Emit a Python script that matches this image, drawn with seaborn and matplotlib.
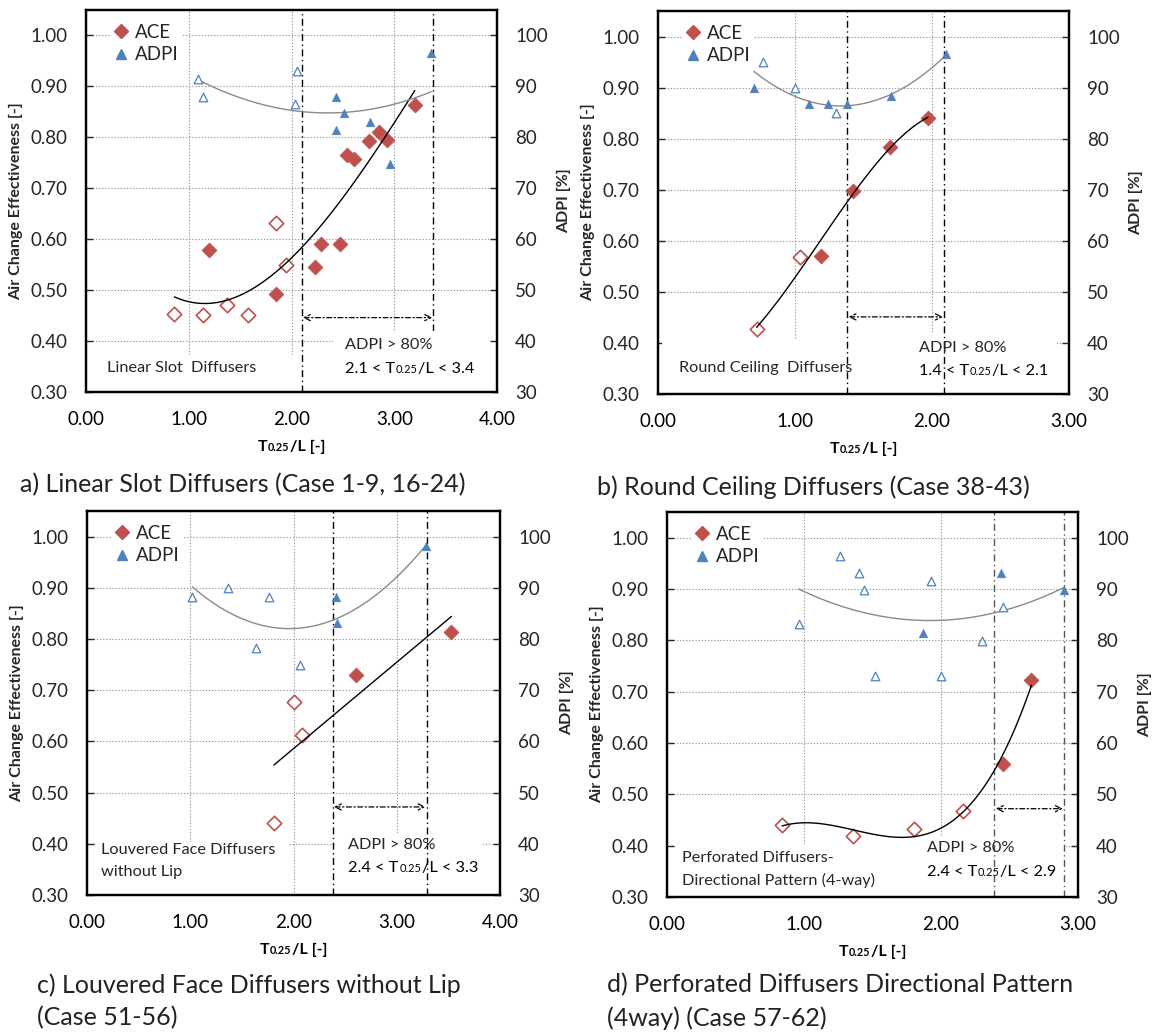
import numpy as np
import pandas as pd
import matplotlib
matplotlib.use("Agg")
import matplotlib.pyplot as plt
import seaborn as sns
from matplotlib.transforms import IdentityTransform
from matplotlib.lines import Line2D
from matplotlib.patches import Rectangle

sns.set_theme(style="white")
plt.rcParams["font.family"] = ["Lato", "DejaVu Sans"]

# ---------------- data ----------------
# Panel a: Linear slot diffusers
a_ace_fill_x = [1.20, 1.85, 2.23, 2.29, 2.47, 2.54, 2.61, 2.75, 2.85, 2.93, 3.20]
a_ace_fill_y = [0.578, 0.492, 0.546, 0.591, 0.591, 0.765, 0.758, 0.792, 0.810, 0.794, 0.863]
a_ace_open_x = [0.86, 1.14, 1.37, 1.58, 1.85, 1.95]
a_ace_open_y = [0.454, 0.452, 0.471, 0.451, 0.632, 0.550]
a_adpi_fill_x = [2.43, 2.51, 2.43, 2.76, 2.96, 3.36]
a_adpi_fill_y = [88.0, 84.8, 81.5, 83.1, 74.8, 96.5]
a_adpi_open_x = [1.09, 1.14, 2.05, 2.03]
a_adpi_open_y = [91.5, 88.0, 93.1, 86.5]

# Panel b: Round ceiling diffusers
b_ace_fill_x = [1.19, 1.42, 1.69, 1.97]
b_ace_fill_y = [0.571, 0.698, 0.784, 0.840]
b_ace_open_x = [0.72, 1.04]
b_ace_open_y = [0.427, 0.569]
b_adpi_fill_x = [0.70, 1.10, 1.24, 1.38, 1.70, 2.10]
b_adpi_fill_y = [89.9, 86.7, 86.7, 86.7, 88.4, 96.6]
b_adpi_open_x = [0.77, 1.00, 1.30]
b_adpi_open_y = [95.0, 90.0, 85.0]

# Panel c: Louvered face diffusers without lip
c_ace_fill_x = [2.61, 3.53]
c_ace_fill_y = [0.730, 0.813]
c_ace_open_x = [1.81, 2.00, 2.08]
c_ace_open_y = [0.441, 0.676, 0.612]
c_adpi_fill_x = [2.41, 2.42, 3.28]
c_adpi_fill_y = [88.2, 83.1, 98.1]
c_adpi_open_x = [1.02, 1.37, 1.76, 1.64, 2.06]
c_adpi_open_y = [88.2, 90.0, 88.2, 78.3, 75.0]

# Panel d: Perforated diffusers, directional pattern (4-way)
d_ace_fill_x = [2.45, 2.66]
d_ace_fill_y = [0.559, 0.722]
d_ace_open_x = [0.84, 1.36, 1.80, 2.16]
d_ace_open_y = [0.441, 0.419, 0.433, 0.467]
d_adpi_fill_x = [1.87, 2.44, 2.90]
d_adpi_fill_y = [81.5, 93.2, 89.8]
d_adpi_open_x = [1.26, 1.40, 1.44, 1.93, 0.96, 1.52, 2.00, 2.30, 2.45]
d_adpi_open_y = [96.5, 93.1, 89.8, 91.5, 83.2, 73.1, 73.1, 79.8, 86.4]

# ADPI > 80 % ranges of T0.25/L
ranges = {"a": [2.1, 3.38], "b": [1.38, 2.09], "c": [2.38, 3.29], "d": [2.39, 2.90]}
range_labels = {"a": ["2.1", "3.4"], "b": ["1.4", "2.1"], "c": ["2.4", "3.3"], "d": ["2.4", "2.9"]}
xmax = {"a": 4.0, "b": 3.0, "c": 4.0, "d": 3.0}
ace_order = {"a": 3, "b": 3, "c": 1, "d": 3}
adpi_order = {"a": 2, "b": 2, "c": 2, "d": 2}
type_labels = {"a": ["Linear Slot  Diffusers"],
               "b": ["Round Ceiling  Diffusers"],
               "c": ["Louvered Face Diffusers", "without Lip"],
               "d": ["Perforated Diffusers-", "Directional Pattern (4-way)"]}
captions = {"a": ["a) Linear Slot Diffusers (Case 1-9, 16-24)"],
            "b": ["b) Round Ceiling Diffusers (Case 38-43)"],
            "c": ["c) Louvered Face Diffusers without Lip", "(Case 51-56)"],
            "d": ["d) Perforated Diffusers Directional Pattern", "(4way) (Case 57-62)"]}

data = {
    "a": (a_ace_fill_x, a_ace_fill_y, a_ace_open_x, a_ace_open_y,
          a_adpi_fill_x, a_adpi_fill_y, a_adpi_open_x, a_adpi_open_y),
    "b": (b_ace_fill_x, b_ace_fill_y, b_ace_open_x, b_ace_open_y,
          b_adpi_fill_x, b_adpi_fill_y, b_adpi_open_x, b_adpi_open_y),
    "c": (c_ace_fill_x, c_ace_fill_y, c_ace_open_x, c_ace_open_y,
          c_adpi_fill_x, c_adpi_fill_y, c_adpi_open_x, c_adpi_open_y),
    "d": (d_ace_fill_x, d_ace_fill_y, d_ace_open_x, d_ace_open_y,
          d_adpi_fill_x, d_adpi_fill_y, d_adpi_open_x, d_adpi_open_y),
}

# ---------------- styling / layout ----------------
W, H = 1156, 1036
RED = "#C0504D"
BLUE = "#4F81BD"
GRID = "#9A9A9A"
TICK_FS = 13.5
LAB_FS = 11.5
CAP_FS = 18
ANN_FS = 11.7

# axes boxes in pixels: left, top, right, bottom
boxes = {"a": (86, 10, 497, 392), "b": (658, 11, 1069, 394),
         "c": (87, 511, 500, 895), "d": (667, 512, 1078, 897)}
cap_pos = {"a": (20, 485), "b": (597, 487), "c": (37, 985), "d": (607, 985)}
# white label boxes (axes fraction): (x0, x1, top)
white_boxes = {"a": [(0.01, 0.51, 0.098), (0.60, 0.99, 0.16)],
               "b": [(0.01, 0.60, 0.14), (0.60, 0.97, 0.16)],
               "c": [(0.02, 0.49, 0.137), (0.60, 0.96, 0.162)],
               "d": [(0.02, 0.55, 0.138), (0.55, 0.97, 0.155)]}
ann_pos = {"a": ((0.052, 0.064), (0.629, 0.122)),
           "b": ((0.052, 0.069), (0.634, 0.121)),
           "c": ((0.035, 0.117), (0.633, 0.130)),
           "d": ((0.036, 0.100), (0.633, 0.127))}
arrow_y = {"a": 0.446, "b": 0.451, "c": 0.472, "d": 0.472}
vline_color = {"a": "black", "b": "black", "c": "black", "d": "#555555"}

fig = plt.figure(figsize=(W / 100, H / 100), dpi=100)
renderer = fig.canvas.get_renderer()


def px_axes(l, t, r, b):
    return fig.add_axes([l / W, 1 - b / H, (r - l) / W, (b - t) / H])


def rich_text(x, y, pieces, ha="left", rotation=0):
    """pieces: list of (text, size, weight); x, y in display px, baseline."""
    texts = []
    for s, size, weight in pieces:
        t = fig.text(0, y, s, fontsize=size, fontweight=weight,
                     transform=IdentityTransform(), va="baseline", ha="left",
                     color="black", zorder=10)
        texts.append(t)
    widths = [t.get_window_extent(renderer).width for t in texts]
    gap = 0.6
    total = sum(widths) + gap * (len(widths) - 1)
    x0 = x - total / 2 if ha == "center" else x
    for t, w in zip(texts, widths):
        t.set_x(x0)
        x0 += w + gap


for key in ["a", "b", "c", "d"]:
    l, t, r, b = boxes[key]
    ax = px_axes(l, t, r, b)
    ax2 = ax.twinx()
    (acefx, acefy, aceox, aceoy, adfx, adfy, adox, adoy) = data[key]

    # ACE points
    sns.scatterplot(x=aceox, y=aceoy, ax=ax, marker="D", s=54,
                    facecolor="white", edgecolor=RED, linewidth=1.2, zorder=3)
    sns.scatterplot(x=acefx, y=acefy, ax=ax, marker="D", s=58,
                    color=RED, edgecolor=RED, linewidth=0.5, zorder=3)
    ace_x = np.array(acefx + aceox)
    ace_y = np.array(acefy + aceoy)
    sns.regplot(x=ace_x, y=ace_y, ax=ax, order=ace_order[key], scatter=False,
                ci=None, truncate=True, line_kws=dict(color="black", lw=1.0, zorder=4))

    # ADPI points
    sns.scatterplot(x=adox, y=adoy, ax=ax2, marker="^", s=38,
                    facecolor="white", edgecolor=BLUE, linewidth=0.9, zorder=3)
    sns.scatterplot(x=adfx, y=adfy, ax=ax2, marker="^", s=40,
                    color=BLUE, edgecolor=BLUE, linewidth=0.3, zorder=3)
    ad_x = np.array(adfx + adox)
    ad_y = np.array(adfy + adoy)
    sns.regplot(x=ad_x, y=ad_y, ax=ax2, order=adpi_order[key], scatter=False,
                ci=None, truncate=True, line_kws=dict(color="#8A8A8A", lw=1.0, zorder=2))

    # axes
    ax.set_xlim(0, xmax[key])
    ax.set_ylim(0.30, 1.05)
    ax2.set_ylim(30, 105)
    ax.set_xticks(np.arange(0, xmax[key] + 0.01, 1.0))
    ax.set_xticks(np.arange(0.5, xmax[key], 1.0), minor=True)
    ax.set_xticklabels([f"{v:.2f}" for v in np.arange(0, xmax[key] + 0.01, 1.0)])
    ax.set_yticks(np.arange(0.30, 1.001, 0.10))
    ax.set_yticklabels([f"{v:.2f}" for v in np.arange(0.30, 1.001, 0.10)])
    ax2.set_yticks(np.arange(30, 101, 10))
    ax2.set_yticklabels([f"{v:d}" for v in range(30, 101, 10)])
    ax.set_xlabel("")
    ax.set_ylabel("")
    ax2.set_ylabel("")
    ax.set_axisbelow(True)
    ax.grid(True, which="major", color=GRID, ls=(0, (1.2, 1.6)), lw=0.8)
    ax.tick_params(axis="x", which="both", direction="in", length=5, width=1,
                   labelsize=TICK_FS, pad=13.5, colors="black", bottom=True)
    ax.tick_params(axis="x", which="major", length=0)
    ax.tick_params(axis="y", direction="in", length=5, width=1,
                   labelsize=TICK_FS, pad=13, left=True)
    ax2.tick_params(axis="y", direction="in", length=5, width=1,
                    labelsize=TICK_FS, pad=13, right=True)
    for sp in ax.spines.values():
        sp.set_color("black")
        sp.set_linewidth(1.6)
    for sp in ax2.spines.values():
        sp.set_color("black")
        sp.set_linewidth(1.6)

    # white text boxes hiding grid
    for i, (x0, x1, top) in enumerate(white_boxes[key]):
        z = 0.95 if (key == "a" and i == 1) else 0.8
        ax.add_patch(Rectangle((x0, 0.003), x1 - x0, top - 0.003,
                               transform=ax.transAxes, facecolor="white",
                               edgecolor="none", zorder=z))

    # vertical range lines and arrow
    lo, hi = ranges[key]
    for xv in (lo, hi):
        ax.axvline(xv, color=vline_color[key], lw=1.0,
                   ls=(0, (5, 2.5, 1, 2.5)), zorder=0.9)
    ya = arrow_y[key]
    ax.annotate("", xy=(hi - 0.01, ya), xytext=(lo + 0.01, ya),
                arrowprops=dict(arrowstyle="<->", color="black", lw=0.9,
                                ls=(0, (4, 2, 1, 2)), shrinkA=0, shrinkB=0,
                                mutation_scale=11), zorder=5)

    # legend
    handles = [Line2D([], [], marker="D", color=RED, ls="", markersize=7.5),
               Line2D([], [], marker="^", color=BLUE, ls="", markersize=6.5)]
    leg = ax2.legend(handles, ["ACE", "ADPI"], loc="upper left",
                     bbox_to_anchor=(0.06, 0.972), fontsize=TICK_FS,
                     frameon=True, facecolor="white", edgecolor="none",
                     framealpha=1, fancybox=False, borderpad=0.15,
                     handlelength=0.8, handletextpad=0.35, labelspacing=0.3,
                     borderaxespad=0)
    leg.set_zorder(20)

    # annotations inside
    (tx, ty), (rx, ry) = ann_pos[key]
    for j, s in enumerate(type_labels[key]):
        px, py = ax.transAxes.transform((tx, ty - j * 0.057))
        fig.text(px, py, s, fontsize=ANN_FS, transform=IdentityTransform(),
                 va="center", ha="left", zorder=10)
    px, py = ax.transAxes.transform((rx, ry))
    fig.text(px, py, "ADPI > 80%", fontsize=ANN_FS, transform=IdentityTransform(),
             va="center", ha="left", zorder=10)
    px, py = ax.transAxes.transform((rx, ry - 0.057))
    lo_s, hi_s = range_labels[key]
    rich_text(px, py - 5.5, [(f"{lo_s} < T", ANN_FS, "normal"),
                             ("0.25", ANN_FS * 0.68, "normal"),
                             (f"/L < {hi_s}", ANN_FS, "normal")])

    # axis labels (pixel positions)
    cx = (l + r) / 2
    cy = H - (t + b) / 2
    fig.text(l - 70, cy, "Air Change Effectiveness [-]", rotation=90,
             fontsize=LAB_FS, fontweight="bold", ha="center", va="center",
             transform=IdentityTransform())
    fig.text(r + 67, cy, "ADPI [%]", rotation=90, fontsize=LAB_FS,
             fontweight="bold", ha="center", va="center",
             transform=IdentityTransform())
    rich_text(cx, H - (b + 59), [("T", LAB_FS, "bold"), ("0.25", LAB_FS * 0.68, "bold"),
                                 ("/L [-]", LAB_FS, "bold")], ha="center")

    # caption
    cxp, cyp = cap_pos[key]
    for j, s in enumerate(captions[key]):
        fig.text(cxp, H - (cyp + j * 33), s, fontsize=CAP_FS, ha="left",
                 va="center", transform=IdentityTransform(), color="#222222")

fig.savefig("out.png", dpi=100, facecolor="white")
